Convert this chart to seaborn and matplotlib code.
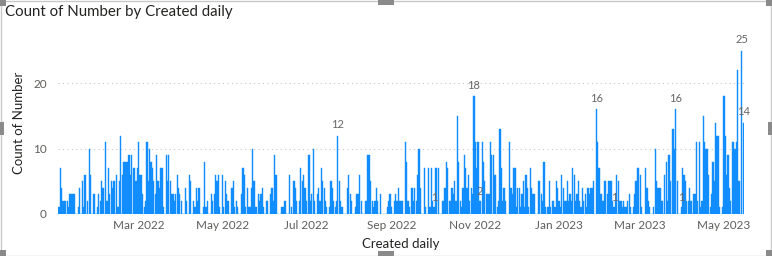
import numpy as np
import pandas as pd
import seaborn as sns
import matplotlib.pyplot as plt
from matplotlib.patches import Rectangle

# ---- data: daily counts, starting 2022-01-02 ----
start_date = "2022-01-02"
counts_jan_apr_2022 = [1,7,4,2,2,2,2,1,3,3, 3,3,0,0,1,4,0,5,1,6,
                       0,2,10,6,0,3,3,0,1,3, 2,5,4,0,11,2,7,3,5,4,
                       5,0,6,1,5,12,6,8,8,8, 8,9,6,9,7,7,5,7,11,6,
                       6,3,1,2,11,5,10,8,7,5, 3,9,5,4,7,7,1,0,9,5,
                       9,5,3,3,2,3,6,4,3,2, 0,0,4,2,0,6,5,0,2,1]
counts_apr_jul_2022 = [4,2,4,0,0,1,8,1,2,0, 0,3,2,3,6,5,6,1,0,6,
                       1,5,3,2,0,0,4,5,1,2, 1,0,0,3,7,6,1,4,1,1,
                       4,10,5,1,1,3,2,3,4,1, 0,2,2,0,3,4,2,9,6,0,
                       0,0,1,1,2,2,0,0,6,1, 0,5,4,2,0,2,7,5,6,4,
                       2,0,9,2,3,10,2,0,3,4, 2,7,5,4,2,1,0,1,5,4]
counts_jul_oct_2022 = [2,1,2,12,5,2,1,0,0,0, 4,6,3,2,0,0,1,3,3,6,
                       2,0,0,2,2,9,9,5,2,1, 2,4,2,0,3,0,0,0,0,1,
                       2,3,1,0,2,3,2,4,2,2, 2,0,11,8,2,1,0,4,2,4,
                       2,6,10,4,0,0,7,1,0,7, 1,7,2,1,7,7,7,0,0,2,
                       2,4,8,7,2,2,4,3,5,2, 15,8,2,1,4,9,7,4,6,2]
counts_oct_2022_feb_2023 = [4,3,18,11,7,11,2,2,11,8, 5,3,3,3,11,9,9,6,6,1,
                            2,13,7,2,4,2,0,0,11,4, 3,7,7,1,4,4,1,3,5,1,
                            6,4,1,7,4,3,3,0,0,5, 5,3,2,8,1,0,1,5,1,2,
                            2,1,5,4,2,1,6,4,2,2, 5,2,3,2,7,6,2,3,5,2,
                            1,4,2,3,1,4,3,4,4,5, 0,16,11,7,3,3,2,5,5,3]
counts_feb_may_2023 = [5,5,5,2,1,2,6,5,2,2, 1,2,1,1,2,3,1,0,1,3,
                       5,7,7,6,1,0,0,7,4,2, 1,0,0,1,10,5,4,4,4,2,
                       0,6,8,2,9,5,0,13,10,16, 5,0,0,1,7,6,5,2,2,4,
                       2,0,3,3,11,2,11,1,2,15, 11,10,10,6,1,3,8,5,14,12,
                       12,1,0,1,18,12,6,9,4,2, 11,11,10,11,22,5,0,25,14]
tick_months = ["2022-03-01", "2022-05-01", "2022-07-01", "2022-09-01",
               "2022-11-01", "2023-01-01", "2023-03-01", "2023-05-01"]
tick_labels = ["Mar 2022", "May 2022", "Jul 2022", "Sep 2022",
               "Nov 2022", "Jan 2023", "Mar 2023", "May 2023"]
big_label_days = ["2022-07-24", "2022-10-31", "2023-01-28", "2023-03-27",
                  "2023-05-14", "2023-05-15"]
small_label_days = ["2022-10-02", "2022-11-04", "2023-02-10", "2023-03-31"]

counts = np.array(counts_jan_apr_2022 + counts_apr_jul_2022 + counts_jul_oct_2022
                  + counts_oct_2022_feb_2023 + counts_feb_may_2023)
start = pd.Timestamp(start_date)
days = np.arange(len(counts))
df = pd.DataFrame({"day": days, "count": counts})

def day_of(s):
    return (pd.Timestamp(s) - start).days

sns.set_theme(style="white")
plt.rcParams["font.family"] = ["Lato", "DejaVu Sans"]

W, H = 772, 256
fig = plt.figure(figsize=(W / 100, H / 100), dpi=100)
ax = fig.add_axes([58 / W, 42 / H, 686 / W, 183 / H])

sns.barplot(data=df, x="day", y="count", native_scale=True, color="#118DFF",
            saturation=1, width=0.9, linewidth=0.3, edgecolor="#118DFF",
            errorbar=None, ax=ax)

ax.set_xlim(-0.7, len(counts) - 0.4)
ax.set_ylim(0, 28)
for s in ax.spines.values():
    s.set_visible(False)
ax.set_yticks([0, 10, 20])
ax.set_yticklabels(["0", "10", "20"])
for yv in [10, 20]:
    ax.axhline(yv, color="#c8c8c8", lw=0.8, ls=(0, (1, 3)), zorder=0)
ax.set_xticks([day_of(m) for m in tick_months])
ax.set_xticklabels(tick_labels)
ax.tick_params(axis="both", length=0, labelsize=8.5, colors="#605E5C", pad=4)
ax.tick_params(axis="y", pad=8)
ax.set_xlabel("Created daily", fontsize=9.5, color="#252423", labelpad=5)
ax.set_ylabel("Count of Number", fontsize=9.5, color="#252423", labelpad=6)

for d in big_label_days:
    i = day_of(d)
    ax.annotate(str(counts[i]), (i, counts[i]), xytext=(0, 4), textcoords="offset points",
                ha="center", va="bottom", fontsize=8, color="#666666")
for d in small_label_days:
    i = day_of(d)
    ax.annotate(str(counts[i]), (i, counts[i]), xytext=(0, 3), textcoords="offset points",
                ha="center", va="bottom", fontsize=8, color="#666666")

fig.text(5 / W, 1 - 12 / H, "Count of Number by Created daily", fontsize=10.8,
         color="#252423", ha="left", va="center")

# visual container border and handles
fig.patches.append(Rectangle((0.5 / W, 0.5 / H), (W - 1.5) / W, (H - 1.5) / H,
                             transform=fig.transFigure, fill=False, ec="#c8c8c8", lw=1))
handles = [(0, H - 6, 6, 6), (378, H - 5, 16, 5), (W - 6, H - 6, 6, 6),
           (0, H - 135, 4, 13), (W - 4, H - 135, 4, 13),
           (0, 0, 6, 6), (378, 0, 16, 5), (W - 6, 0, 6, 6)]
for (x, y, w, h) in handles:
    fig.patches.append(Rectangle((x / W, y / H), w / W, h / H, transform=fig.transFigure,
                                 fc="#8a8a8a", ec="none"))

fig.savefig("out.png", dpi=100)
